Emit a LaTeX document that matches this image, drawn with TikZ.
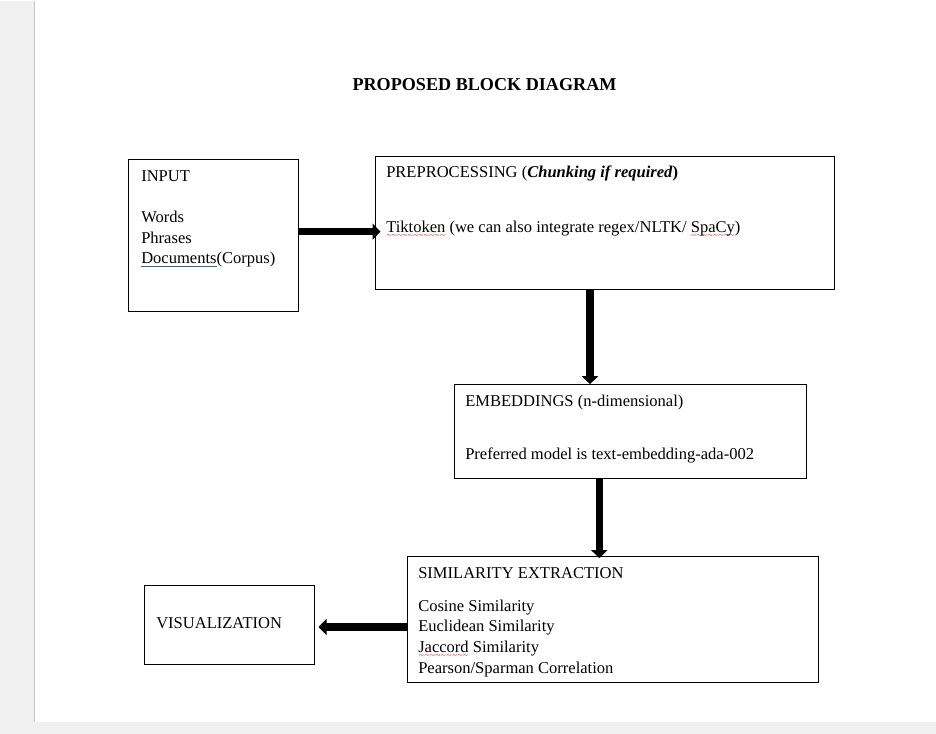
\documentclass[tikz,border=0pt]{standalone}
\usepackage{fontspec}
\setmainfont{Liberation Serif}
\usetikzlibrary{arrows.meta}

\definecolor{pagegray}{RGB}{240,240,240}
\definecolor{edgegray}{RGB}{198,198,198}
\definecolor{wordred}{RGB}{225,30,30}
\definecolor{wordblue}{RGB}{45,95,215}

% spell-check marks as the page shows them
\newcommand{\spellwave}[1]{\setbox0=\hbox{#1}\rlap{\textcolor{wordred}{\raisebox{-4.2pt}[0pt][0pt]{\hbox to\wd0{\fontsize{7}{7}\selectfont\xleaders\hbox{\char"7E}\hfil}}}}\box0\relax}
\newcommand{\grammarline}[1]{\setbox0=\hbox{#1}\rlap{\textcolor{wordblue}{\rule[-2.2pt]{\wd0}{0.7pt}}}\box0\relax}

\begin{document}
\begin{tikzpicture}[x=0.75pt, y=-0.75pt, font=\fontsize{12.4}{15.4}\selectfont,
  blk/.style={draw, line width=0.75pt, rectangle, inner sep=0pt},
  txt/.style={anchor=north west, align=left, inner sep=0pt},
  fat/.style={line width=5.5pt, -{Triangle[length=6pt,width=12pt]}}]
% page
\fill[pagegray] (0,0) rectangle (936,733);
\fill[white] (35,0) rectangle (936,721);
\draw[edgegray, line width=1pt] (34.5,0) -- (34.5,721);
\useasboundingbox (0,0) rectangle (936,733);

\node[font=\fontsize{13.6}{16}\selectfont\bfseries, anchor=base] (title) at (484.5,90) {PROPOSED BLOCK DIAGRAM};

% blocks
\node[blk, minimum width=127.5pt, minimum height=114pt] (inp) at (213,235) {};
\node[blk, minimum width=344.25pt, minimum height=99.75pt] (pre) at (604.5,222.5) {};
\node[blk, minimum width=264pt, minimum height=70.5pt] (emb) at (630,431) {};
\node[blk, minimum width=308.25pt, minimum height=94.5pt] (sim) at (612.5,619) {};
\node[blk, minimum width=127.5pt, minimum height=59.25pt] (vis) at (229,624.5) {};

\node[txt] (inptxt) at (141,166.1) {\strut INPUT\\[15.4pt]Words\\Phrases\\\grammarline{Documents}(Corpus)};
\node[txt] (pretxt) at (386,162.6) {\strut PREPROCESSING (\textbf{\textit{Chunking if required})}\\[25.5pt]\spellwave{Tiktoken} (we can also integrate regex/NLTK/ \spellwave{SpaCy})};
\node[txt] (embtxt) at (465,391.6) {\strut EMBEDDINGS (n-dimensional)\\[24.35pt]Preferred model is text-embedding-ada-002};
\node[txt] (simtxt) at (418,563.1) {\strut SIMILARITY EXTRACTION\\[9.35pt]Cosine Similarity\\Euclidean Similarity\\\spellwave{Jaccord} Similarity\\Pearson/Sparman Correlation};
\node[txt] (vistxt) at (156,613.1) {\strut VISUALIZATION};

% arrows
\draw[fat] ([yshift=3pt]inp.east) -- ([yshift=3pt,xshift=4.5pt]inp.east -| pre.west);
\draw[fat] ([xshift=-10.9pt]pre.south) -- ([xshift=-10.9pt]pre.south |- emb.north);
\draw[fat] ([xshift=-23pt]emb.south) -- ([xshift=-23pt,yshift=-1.5pt]emb.south |- sim.north);
\draw[fat] ([yshift=-5.5pt]sim.west) -- ([yshift=-5.5pt,xshift=3pt]sim.west -| vis.east);
\end{tikzpicture}
\end{document}
